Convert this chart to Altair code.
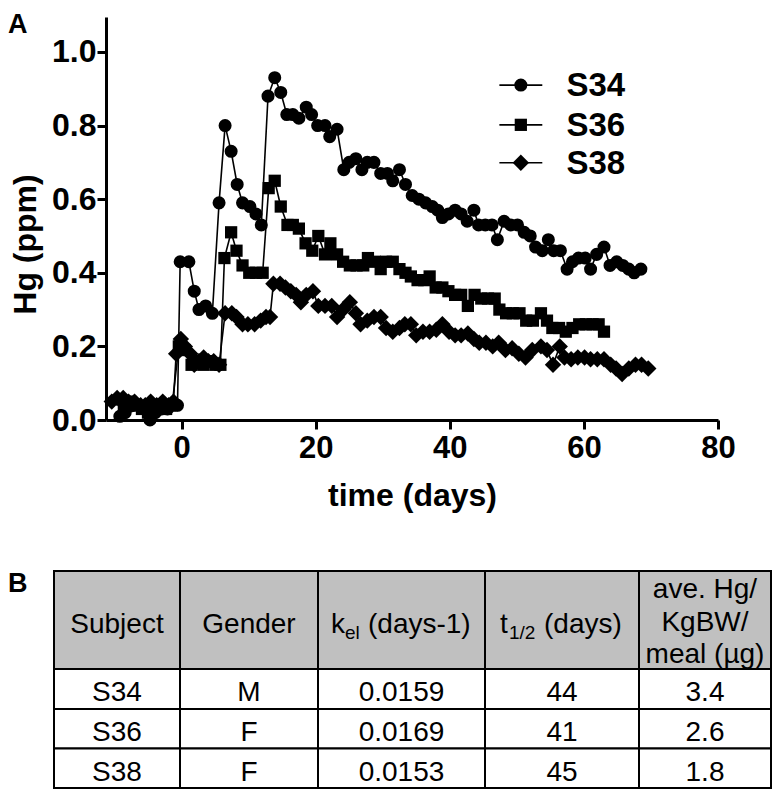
import altair as alt
import pandas as pd

# ------------------------------------------------------------------ data
series_names = ["S34", "S36", "S38"]

s34_days = [-9.2, -8.4, -5.4, -4.7, -3.9, -3.0, -2.1, -1.3, -0.6, -0.2, 1.1, 1.9, 2.6, 3.6, 4.6,
            5.6, 6.5, 7.4, 8.3, 9.1, 10.2, 11.1, 11.9, 12.9, 13.9, 14.8, 15.7, 16.6, 17.5, 18.6,
            19.4, 20.3, 21.4, 22.1, 23.2, 24.2, 25.0, 26.0, 26.9, 27.7, 28.7, 29.7, 30.7, 31.5,
            32.5, 33.4, 34.4, 35.4, 36.4, 37.4, 38.2, 38.9, 39.8, 40.8, 41.7, 42.6, 43.6, 44.3,
            45.3, 46.3, 47.1, 48.1, 49.1, 50.1, 51.1, 52.0, 52.8, 53.8, 54.7, 55.5, 56.5, 57.5,
            58.3, 59.2, 60.2, 61.0, 61.9, 63.0, 63.9, 64.9, 65.8, 66.7, 67.5, 68.5]
s34_hg = [0.01, 0.02, 0.03, 0.00, 0.02, 0.03, 0.03, 0.04, 0.04, 0.43, 0.43, 0.35, 0.30, 0.31, 0.29,
          0.59, 0.80, 0.73, 0.64, 0.59, 0.58, 0.56, 0.53, 0.88, 0.93, 0.89, 0.83, 0.83, 0.82, 0.85,
          0.83, 0.80, 0.80, 0.77, 0.79, 0.68, 0.70, 0.71, 0.68, 0.70, 0.70, 0.67, 0.67, 0.65,
          0.68, 0.64, 0.61, 0.60, 0.59, 0.58, 0.57, 0.55, 0.56, 0.57, 0.56, 0.54, 0.57, 0.53,
          0.53, 0.53, 0.49, 0.54, 0.53, 0.53, 0.51, 0.50, 0.47, 0.46, 0.49, 0.46, 0.46, 0.41,
          0.43, 0.44, 0.44, 0.41, 0.45, 0.47, 0.42, 0.43, 0.42, 0.41, 0.40, 0.41]

s36_days = [-8.6, -7.7, -6.8, -5.9, -5.0, -4.1, -3.2, -2.3, -1.4,
            -0.4, 0.5, 1.5, 2.4, 3.3, 4.2, 5.1, 5.8, 6.4, 7.4, 8.2, 9.1, 10.1, 11.1, 12.1,
            13.0, 13.9, 14.8, 15.8, 16.6, 17.5, 18.5, 19.5, 20.4, 21.4, 22.2, 23.2, 24.1, 25.1,
            26.1, 27.1, 27.8, 28.8, 29.7, 30.5, 31.5, 32.5, 33.4, 34.2, 35.2, 36.2, 37.0, 37.9,
            38.9, 39.8, 40.8, 41.7, 42.7, 43.7, 44.7, 45.7, 46.7, 47.4, 48.4, 49.4, 50.4, 51.4,
            52.4, 53.6, 54.5, 55.3, 56.3, 57.3, 58.3, 59.3, 60.3, 61.3, 62.2, 63.0]
s36_hg = [0.04, 0.05, 0.04, 0.03, 0.02, 0.03, 0.04, 0.03, 0.04,
          0.20, 0.19, 0.15, 0.16, 0.15, 0.16, 0.15, 0.15, 0.44, 0.51, 0.46, 0.42, 0.40, 0.40, 0.40,
          0.63, 0.65, 0.58, 0.53, 0.53, 0.52, 0.48, 0.46, 0.50, 0.45, 0.48, 0.45, 0.43, 0.42,
          0.42, 0.42, 0.44, 0.43, 0.41, 0.43, 0.43, 0.41, 0.40, 0.39, 0.38, 0.38, 0.39, 0.36,
          0.36, 0.35, 0.34, 0.34, 0.31, 0.34, 0.33, 0.33, 0.33, 0.30, 0.29, 0.29, 0.29, 0.27,
          0.27, 0.29, 0.27, 0.25, 0.25, 0.24, 0.25, 0.26, 0.26, 0.26, 0.26, 0.24]

s38_days = [-10.4, -9.6, -8.7, -7.9, -7.0, -6.1, -5.4, -4.6, -3.7, -2.8, -1.9, -1.2,
            -0.8, -0.1, 0.5, 1.3, 1.9, 2.6, 3.3, 4.0, 4.8, 5.6, 6.5, 7.5, 8.2, 9.1, 9.9, 10.9,
            11.8, 12.6, 13.2, 13.7, 14.7, 15.5, 16.3, 17.1, 17.8, 18.6, 19.6, 20.4, 21.4, 22.4,
            23.2, 24.1, 25.1, 26.0, 26.7, 27.7, 28.7, 29.7, 30.5, 31.5, 32.5, 33.3, 34.2, 35.0,
            36.0, 37.0, 38.0, 38.9, 39.9, 40.8, 41.7, 42.7, 43.6, 44.4, 45.4, 46.4, 47.3, 48.3,
            49.3, 50.3, 51.3, 52.3, 53.6, 54.5, 55.4, 56.4, 57.1, 58.1, 59.1, 60.1, 61.0, 62.0,
            63.0, 64.0, 64.8, 65.7, 66.7, 67.7, 68.6, 69.6]
s38_hg = [0.05, 0.06, 0.06, 0.05, 0.05, 0.04, 0.04, 0.05, 0.04, 0.05, 0.04, 0.05,
          0.18, 0.22, 0.20, 0.18, 0.15, 0.16, 0.17, 0.16, 0.16, 0.15, 0.29, 0.29, 0.28, 0.26, 0.26, 0.26,
          0.27, 0.28, 0.28, 0.37, 0.37, 0.36, 0.35, 0.34, 0.32, 0.34, 0.35, 0.31, 0.31, 0.31,
          0.28, 0.30, 0.32, 0.29, 0.26, 0.27, 0.28, 0.28, 0.25, 0.24, 0.25, 0.26, 0.26, 0.23,
          0.24, 0.24, 0.245, 0.26, 0.24, 0.23, 0.23, 0.235, 0.22, 0.21, 0.21, 0.20, 0.21, 0.19,
          0.195, 0.18, 0.17, 0.19, 0.20, 0.19, 0.15, 0.20, 0.17, 0.165, 0.17, 0.17, 0.165, 0.165,
          0.165, 0.15, 0.14, 0.125, 0.14, 0.15, 0.15, 0.14]

# table B
table_subjects = ["S34", "S36", "S38"]
table_gender = ["M", "F", "F"]
table_kel = ["0.0159", "0.0169", "0.0153"]
table_thalf = ["44", "41", "45"]
table_ave = ["3.4", "2.6", "1.8"]
header_plain = ["Subject", "Gender"]
header_kel = ["k", "el", "(days-1)"]
header_thalf = ["t", "1/2", "(days)"]
header_ave = ["ave. Hg/", "KgBW/", "meal (µg)"]

# ------------------------------------------------------------------ layout / style
FONT = "Liberation Sans"
X_DOMAIN = [-11.26, 80]
Y_DOMAIN = [0, 1.095]
PLOT_W, PLOT_H = 612, 403
PAD = {"left": 98, "top": 9, "right": 54, "bottom": 369}
MARKERS = {"S34": ("circle", 170), "S36": ("square", 150), "S38": ("diamond", 270)}
LEG_Y = [0.910, 0.802, 0.699]
LEG_X0, LEG_X1, LEG_XM, LEG_TX = 47.4, 53.8, 50.6, 57.4
COL_EDGES = [0, 126, 264, 431, 585, 717]
ROW_EDGES = [0, 98, 138, 177.5, 217]
TABLE_X_RANGE = [-52, 665]
TABLE_Y_RANGE = [554, 771]
HEADER_FILL = "#c0c0c0"
TXT = 28
SUB = 19
HEAD_BASE = 61.5
SUB_BASE = 67.5
AVE_BASE = [27, 59.5, 92]
ROW_BASE = [130, 170, 209.5]

# ------------------------------------------------------------------ plot A
rows = []
for name, dd, vv in zip(series_names, [s34_days, s36_days, s38_days], [s34_hg, s36_hg, s38_hg]):
    for d, v in zip(dd, vv):
        rows.append({"subject": name, "day": d, "hg": v})
df = pd.DataFrame(rows)

x_axis = alt.Axis(values=[0, 20, 40, 60, 80], title="time (days)", grid=False,
                  domainWidth=3, domainColor="black", tickWidth=3, tickColor="black", tickSize=9,
                  labelFont=FONT, labelFontSize=31, labelFontWeight="bold", labelColor="black",
                  labelPadding=4, labelFlush=False,
                  titleFont=FONT, titleFontSize=32, titleFontWeight="bold", titleColor="black",
                  titleBaseline="alphabetic", titleY=85)
y_axis = alt.Axis(values=[0, 0.2, 0.4, 0.6, 0.8, 1.0], format=".1f", title="Hg (ppm)", grid=False,
                  domainWidth=3, domainColor="black", tickWidth=3, tickColor="black", tickSize=9,
                  labelFont=FONT, labelFontSize=32, labelFontWeight="bold", labelColor="black",
                  labelPadding=1,
                  titleFont=FONT, titleFontSize=32, titleFontWeight="bold", titleColor="black",
                  titleAngle=270, titleBaseline="alphabetic", titleAlign="center",
                  titleX=-71, titleY=227)
xs = alt.Scale(domain=X_DOMAIN, nice=False, zero=False)
ys = alt.Scale(domain=Y_DOMAIN, nice=False, zero=False)


def X(f):
    return alt.X(f, scale=xs, axis=x_axis)


def Y(f):
    return alt.Y(f, scale=ys, axis=y_axis)


lines = alt.Chart(df).mark_line(color="black", strokeWidth=1.6).encode(
    x=X("day:Q"), y=Y("hg:Q"), detail="subject:N", order="day:Q")

leg = pd.DataFrame({"subject": series_names, "ly": LEG_Y})
leg["x0"], leg["x1"], leg["xm"], leg["tx"] = LEG_X0, LEG_X1, LEG_XM, LEG_TX
leg_rule = alt.Chart(leg).mark_rule(color="black", strokeWidth=1.6).encode(
    x=X("x0:Q"), x2="x1:Q", y=Y("ly:Q"))
leg_txt = alt.Chart(leg).mark_text(align="left", baseline="middle", font=FONT, fontSize=33,
                                   fontWeight="bold", color="black", dy=1).encode(
    x=X("tx:Q"), y=Y("ly:Q"), text="subject:N")

point_layers = []
for name in series_names:
    shp, sz = MARKERS[name]
    point_layers.append(
        alt.Chart(df).transform_filter(alt.datum.subject == name)
        .mark_point(shape=shp, size=sz, filled=True, color="black", opacity=1, strokeWidth=0)
        .encode(x=X("day:Q"), y=Y("hg:Q")))
    point_layers.append(
        alt.Chart(leg).transform_filter(alt.datum.subject == name)
        .mark_point(shape=shp, size=sz, filled=True, color="black", opacity=1, strokeWidth=0)
        .encode(x=X("xm:Q"), y=Y("ly:Q")))

lab_a = alt.Chart(pd.DataFrame({"lab": ["A"]})).mark_text(
    align="left", baseline="alphabetic", font=FONT, fontSize=27, fontWeight="bold",
    color="black").encode(text="lab:N", x=alt.value(-98), y=alt.value(16))

plot_group = alt.layer(lines, *point_layers, leg_rule, leg_txt, lab_a)

# ------------------------------------------------------------------ table B
tx = alt.Scale(domain=[COL_EDGES[0], COL_EDGES[-1]], range=TABLE_X_RANGE, nice=False, zero=False)
ty = alt.Scale(domain=[ROW_EDGES[0], ROW_EDGES[-1]], range=TABLE_Y_RANGE, nice=False, zero=False)

cells = []
for r in range(len(ROW_EDGES) - 1):
    for c in range(len(COL_EDGES) - 1):
        cells.append({"x0": COL_EDGES[c], "x1": COL_EDGES[c + 1],
                      "y0": ROW_EDGES[r], "y1": ROW_EDGES[r + 1],
                      "fill": HEADER_FILL if r == 0 else "white"})
cells = pd.DataFrame(cells)
col_mid = [(COL_EDGES[i] + COL_EDGES[i + 1]) / 2 for i in range(len(COL_EDGES) - 1)]

centered = []
for i, t in enumerate(header_plain):
    centered.append({"tx": col_mid[i], "ty": HEAD_BASE, "txt": t, "fs": TXT})
for t, yb in zip(header_ave, AVE_BASE):
    centered.append({"tx": col_mid[4], "ty": yb, "txt": t, "fs": TXT})
for r in range(3):
    vals = [table_subjects[r], table_gender[r], table_kel[r], table_thalf[r], table_ave[r]]
    for c, t in enumerate(vals):
        centered.append({"tx": col_mid[c], "ty": ROW_BASE[r], "txt": t, "fs": TXT})
centered = pd.DataFrame(centered)

left = pd.DataFrame([
    {"tx": 277, "ty": HEAD_BASE, "txt": header_kel[0], "fs": TXT},
    {"tx": 291, "ty": SUB_BASE, "txt": header_kel[1], "fs": SUB},
    {"tx": 314, "ty": HEAD_BASE, "txt": header_kel[2], "fs": TXT},
    {"tx": 446, "ty": HEAD_BASE, "txt": header_thalf[0], "fs": TXT},
    {"tx": 455, "ty": SUB_BASE, "txt": header_thalf[1], "fs": SUB},
    {"tx": 490, "ty": HEAD_BASE, "txt": header_thalf[2], "fs": TXT},
])

cell_chart = alt.Chart(cells).mark_rect(stroke="black", strokeWidth=2).encode(
    x=alt.X("x0:Q", scale=tx, axis=None), x2="x1:Q",
    y=alt.Y("y0:Q", scale=ty, axis=None), y2="y1:Q",
    fill=alt.Fill("fill:N", scale=None))
txt_center = alt.Chart(centered).mark_text(align="center", baseline="alphabetic", font=FONT,
                                           color="black").encode(
    x=alt.X("tx:Q", scale=tx, axis=None), y=alt.Y("ty:Q", scale=ty, axis=None),
    text="txt:N", size=alt.Size("fs:Q", scale=None))
txt_left = alt.Chart(left).mark_text(align="left", baseline="alphabetic", font=FONT,
                                     color="black").encode(
    x=alt.X("tx:Q", scale=tx, axis=None), y=alt.Y("ty:Q", scale=ty, axis=None),
    text="txt:N", size=alt.Size("fs:Q", scale=None))
lab_b = alt.Chart(pd.DataFrame({"lab": ["B"]})).mark_text(
    align="left", baseline="alphabetic", font=FONT, fontSize=27, fontWeight="bold",
    color="black").encode(text="lab:N", x=alt.value(-98), y=alt.value(575))

table_group = alt.layer(cell_chart, txt_center, txt_left, lab_b)

chart = alt.layer(plot_group, table_group).resolve_scale(
    x="independent", y="independent", size="independent"
).properties(
    width=PLOT_W, height=PLOT_H, padding=PAD,
    autosize=alt.AutoSizeParams(type="none")
).configure_view(stroke=None)

chart.save("out.html", embed_options={"renderer": "svg", "actions": False})
